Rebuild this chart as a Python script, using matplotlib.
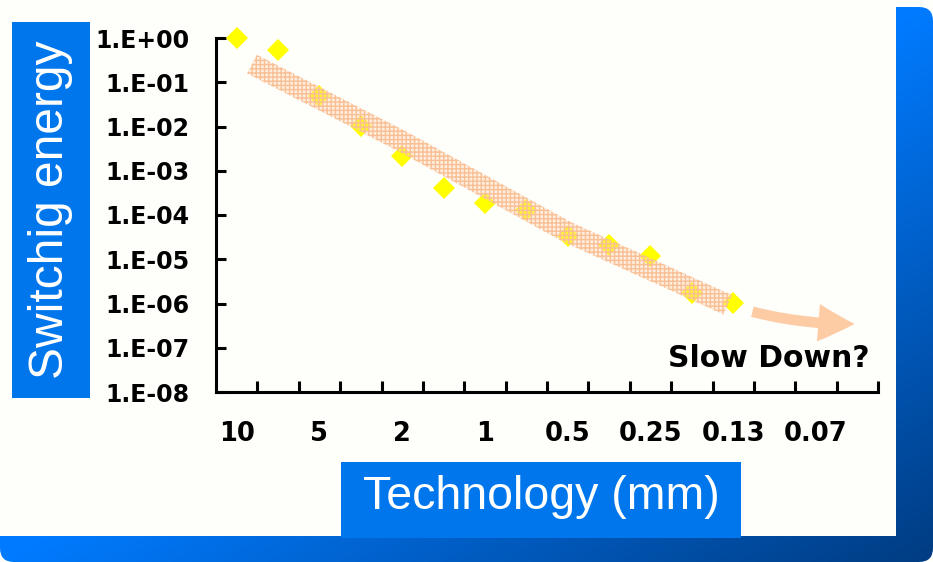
import numpy as np
import matplotlib
matplotlib.use("Agg")
import matplotlib.pyplot as plt
from matplotlib.patches import Rectangle, FancyBboxPatch, Polygon, FancyArrowPatch
from matplotlib.ticker import FixedLocator, FuncFormatter, NullLocator

# ---- data -------------------------------------------------------------
tech_labels = ["10", "5", "2", "1", "0.5", "0.25", "0.13", "0.07"]
label_slots = [0, 2, 4, 6, 8, 10, 12, 14]          # category slot of each label
n_slots = 16

switch_energy = [1.0, 0.54, 0.049, 0.0102, 0.0021, 4.1e-4, 1.87e-4,
                 1.3e-4, 3.4e-5, 2.1e-5, 1.18e-5, 1.73e-6, 1.03e-6]

# trend band centre line (slot position, energy)
trend_x = [0.87, 4.49, 8.48, 12.37]
trend_y = [10 ** -0.59, 10 ** -2.33, 10 ** -4.38, 10 ** -6.03]

# "slow down" extrapolation arrow (start, end)
arrow_x = [12.9, 15.5]
arrow_y = [10 ** -6.17, 10 ** -6.46]

W, H = 933, 562
PAPER = "#FEFEFA"
BOX_BLUE = "#0076EC"

fig = plt.figure(figsize=(W / 100, H / 100), dpi=100, facecolor=PAPER)

# ---- slide background ------------------------------------------------
bg = fig.add_axes([0, 0, 1, 1], zorder=0)
bg.set_xlim(0, W)
bg.set_ylim(H, 0)
bg.axis("off")

gx, gy = np.meshgrid(np.linspace(0, 1, 300), np.linspace(0, 1, 200))
t = np.clip(gx + gy - 1.0, 0, 1)
c0 = np.array([0x00, 0x7B, 0xFF]) / 255
c1 = np.array([0x00, 0x3C, 0x82]) / 255
grad = c0[None, None, :] * (1 - t[..., None]) + c1[None, None, :] * t[..., None]
img = bg.imshow(grad, extent=(0, W, H, 0), aspect="auto", zorder=1)
clip = FancyBboxPatch((0, 7), W, H - 7, boxstyle="round,pad=0,rounding_size=14",
                      transform=bg.transData, facecolor="none", edgecolor="none")
bg.add_patch(clip)
img.set_clip_path(clip)
bg.add_patch(Rectangle((0, 0), 896, 536, facecolor=PAPER, edgecolor="none", zorder=2))

# axis title boxes
bg.add_patch(Rectangle((12, 22), 78, 376, facecolor=BOX_BLUE, edgecolor="none", zorder=3))
bg.text(51, 210, "Switchig energy", rotation=90, ha="center", va="center",
        color="white", fontsize=34.5, family="Liberation Sans", zorder=4)
bg.add_patch(Rectangle((341, 462), 400, 76, facecolor=BOX_BLUE, edgecolor="none", zorder=3))
bg.text(541, 497, "Technology (mm)", ha="center", va="center",
        color="white", fontsize=33.5, family="Liberation Sans", zorder=4)

# ---- chart -----------------------------------------------------------
ax = fig.add_axes([216 / W, 1 - 392 / H, (878 - 216) / W, (392 - 38) / H], zorder=5)
ax.set_facecolor("none")
ax.set_yscale("log")
ax.set_xlim(0, n_slots)
ax.set_ylim(1e-8, 1e0)

for side in ("top", "right"):
    ax.spines[side].set_visible(False)
for side in ("left", "bottom"):
    ax.spines[side].set_linewidth(2.2)
    ax.spines[side].set_color("black")

ax.yaxis.set_major_locator(FixedLocator(10.0 ** np.arange(-8, 1)))
ax.yaxis.set_minor_locator(NullLocator())
ax.yaxis.set_major_formatter(FuncFormatter(lambda v, p: f"1.E{int(round(np.log10(v))):+03d}"))
ax.tick_params(axis="y", direction="in", length=7, width=2.2, pad=19,
               labelsize=17)
for lab in ax.get_yticklabels():
    lab.set_fontweight("bold")

ax.xaxis.set_major_locator(FixedLocator(np.arange(1, n_slots + 1)))
ax.xaxis.set_major_formatter(FuncFormatter(lambda v, p: ""))
ax.xaxis.set_minor_locator(FixedLocator([s + 0.5 for s in label_slots]))
ax.set_xticklabels(tech_labels, minor=True)
ax.tick_params(axis="x", which="major", direction="in", length=8, width=2.2)
ax.tick_params(axis="x", which="minor", length=0, pad=21, labelsize=18.5)
for lab in ax.get_xticklabels(minor=True):
    lab.set_fontweight("bold")

# data points
xs = np.arange(len(switch_energy)) + 0.5
ax.plot(xs, switch_energy, linestyle="none", marker="D", markersize=11.5,
        color="#FFFF00", markeredgewidth=0, zorder=3, clip_on=False)

# trend band: centre line widened perpendicular to itself in display space
fig.canvas.draw()
pts = ax.transData.transform(np.column_stack([trend_x, trend_y]))
d = np.gradient(pts, axis=0)
nrm = np.column_stack([-d[:, 1], d[:, 0]])
nrm /= np.linalg.norm(nrm, axis=1)[:, None]
half = 10.5
band = np.vstack([pts + nrm * half, (pts - nrm * half)[::-1]])
band_data = ax.transData.inverted().transform(band)
ax.add_patch(Polygon(band_data, closed=True, facecolor="#FFD2AE", alpha=0.35,
                     edgecolor="none", zorder=4))
ax.add_patch(Polygon(band_data, closed=True, facecolor="none", hatch="++++",
                     edgecolor="#F9BF95", linewidth=0, zorder=4))

arrow = FancyArrowPatch((arrow_x[0], arrow_y[0]), (arrow_x[1], arrow_y[1]),
                        connectionstyle="arc3,rad=0.07",
                        arrowstyle="simple,head_length=1.3,head_width=1.35,tail_width=0.38",
                        mutation_scale=20, color="#FDCBA4", linewidth=0, zorder=4,
                        clip_on=False)
ax.add_patch(arrow)

ax.text(15.8, 10 ** -7.435, "Slow Down?", ha="right", va="baseline",
        fontsize=21.5, fontweight="bold", color="black", zorder=6)

fig.savefig("out.png", dpi=100, facecolor=PAPER)
